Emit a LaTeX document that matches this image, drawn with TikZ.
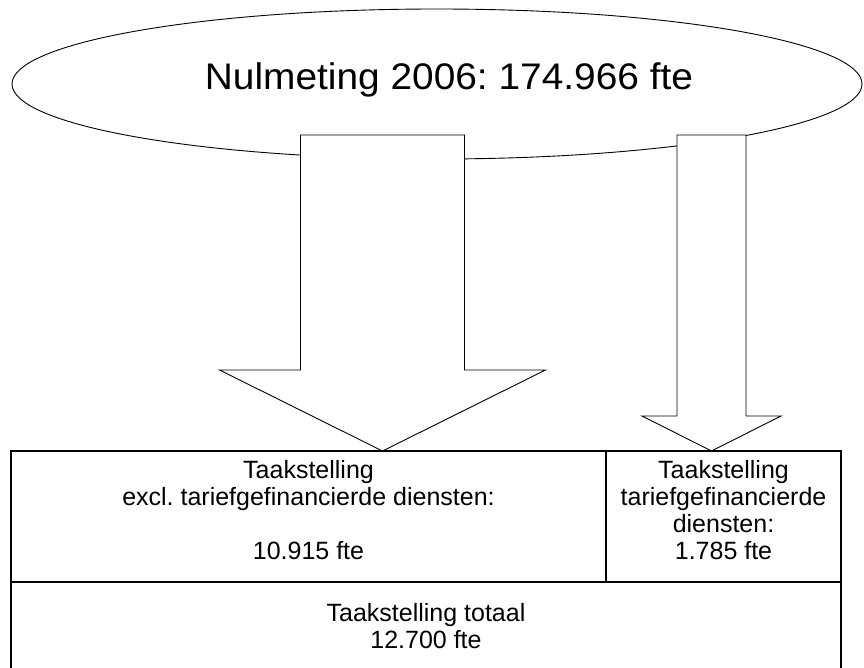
\documentclass[tikz,border=0pt]{standalone}
\usepackage{fontspec}
\setmainfont{Liberation Sans}
\newfontfamily\titlefamily[FakeStretch=1.05]{Liberation Sans}
\usetikzlibrary{shapes.geometric}
\usetikzlibrary{positioning}
\frenchspacing
% extra depth under the last line of a box text
\newcommand{\lowstrut}{\rule[-14pt]{0pt}{14pt}}

\begin{document}
\begin{tikzpicture}[x=1pt,y=-1pt,
    main node/.style={ellipse,draw,line width=0.9pt,fill=white,inner sep=0pt},
    title node/.style={inner sep=0pt,font=\titlefamily\fontsize{37}{44}\selectfont},
    box node/.style={rectangle,draw,line width=1.4pt,align=center,inner sep=0pt,
      font=\fontsize{25}{27}\selectfont},
    block arrow/.style={draw,line width=0.9pt,fill=white,line join=miter}]

  \useasboundingbox (0,0) rectangle (864,668);

  % top: zero measurement
  \node[main node,minimum width=850pt,minimum height=150pt] (nul) at (437,84) {};
  \node[title node] (nultitel) at (449,79.5) {Nulmeting 2006: 174.966 fte};

  % tip points of the two arrows
  \coordinate (tipa) at (382.5,451);
  \coordinate (tipb) at (711.5,451);

  \draw[block arrow] (300.5,135) -- (464.5,135) -- (464.5,370) -- (545.5,370)
    -- (tipa) -- (219.5,370) -- (300.5,370) -- cycle;
  \draw[block arrow] (677,135) -- (746,135) -- (746,416) -- (781,416)
    -- (tipb) -- (642,416) -- (677,416) -- cycle;

  % bottom: the three boxes
  \node[box node,minimum width=595pt,minimum height=131pt] (excl) at (308.5,516.5)
    {Taakstelling\\excl. tariefgefinancierde diensten:\\ \\10.915 fte\lowstrut};
  \node[box node,minimum width=235pt,minimum height=131pt] (tarief) at (723.5,516.5)
    {Taakstelling\\tariefgefinancierde\\diensten:\\1.785 fte\lowstrut};
  \node[box node,minimum width=830pt,minimum height=89pt] (totaal) at (426,626.5)
    {Taakstelling totaal\\12.700 fte};

\end{tikzpicture}
\end{document}
